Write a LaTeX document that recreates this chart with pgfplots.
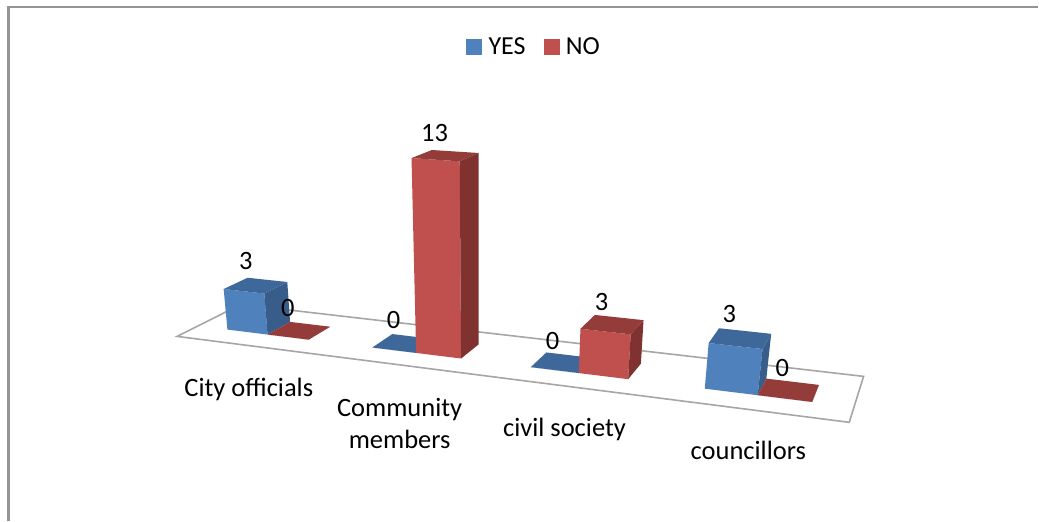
\documentclass[border=0pt]{standalone}
\usepackage{fontspec}
\setmainfont{Carlito}
\usepackage{pgfplots}
\usepackage{pgfplotstable}
\pgfplotsset{compat=1.18}

% Responses per group
\pgfplotstableread{
cat yes no
0   3   0
1   0   13
2   0   3
3   3   0
}\responses

% Faces of a unit column: p along the categories, q in depth, r upward
\pgfplotstableread{
p q r
0 0 0
1 0 0
1 0 1
0 0 1
}\frontface
\pgfplotstableread{
p q r
1 0 0
1 1 0
1 1 1
1 0 1
}\sideface
\pgfplotstableread{
p q r
0 0 1
1 0 1
1 1 1
0 1 1
}\topface

% Floor outline: u in categories, t in depth
\pgfplotstableread{
u t
0 0
4 0
4 1
0 1
}\floortable

\definecolor{yesfront}{HTML}{4F81BD}
\definecolor{yesside}{HTML}{385D8A}
\definecolor{yestop}{HTML}{3D6899}
\definecolor{nofront}{HTML}{C0504D}
\definecolor{noside}{HTML}{7F3230}
\definecolor{notop}{HTML}{943C3A}

% One face: table, colour, left edge of the column, value
\newcommand{\drawface}[4]{%
  \addplot[fill=#2, draw=none, forget plot] table[
    x expr={px(#3+\thisrow{p}*0.2857, 0.31+\thisrow{q}*0.38, #4*\thisrow{r})},
    y expr={py(#3+\thisrow{p}*0.2857, 0.31+\thisrow{q}*0.38, #4*\thisrow{r})}] {#1} -- cycle;
}
\newcommand{\drawfaces}[3]{%
  \drawface{\frontface}{#1front}{#2}{#3}%
  \drawface{\sideface}{#1side}{#2}{#3}%
  \drawface{\topface}{#1top}{#2}{#3}%
}
% One column: category, column of the table, offset inside the category
\newcommand{\drawcolumn}[3]{%
  \pgfplotstablegetelem{#1}{#2}\of\responses
  \edef\docolumn{\noexpand\drawfaces{#2}{#1+#3}{\pgfplotsretval}}%
  \docolumn
}

\begin{document}
\begin{tikzpicture}[chartlabel/.style={font=\fontsize{26.5}{32}\selectfont, inner sep=0pt, align=center}]
\begin{axis}[
  scale only axis, width=1039pt, height=521pt,
  xmin=0, xmax=1039, ymin=0, ymax=521, y dir=reverse,
  hide axis, clip=false,
  declare function={
    wt(\u,\t,\z)=-0.17405*\u/4+0.08325*\t+1-0.005*\z;
    px(\u,\t,\z)=(524.76*\u/4+83.76*\t+177.3-2.4*\z)/wt(\u,\t,\z);
    py(\u,\t,\z)=(12.43*\u/4-6.63*\t+336.7-15.2*\z)/wt(\u,\t,\z);
  },
  legend style={at={(533.5/1039,1-46.5/521)}, anchor=center, draw=none, fill=none,
    legend columns=2, font=\fontsize{26}{30}\selectfont,
    nodes={inner xsep=0pt},
    /tikz/column 1/.style={column sep=7pt},
    /tikz/column 2/.style={column sep=18pt},
    /tikz/column 3/.style={column sep=7pt}},
  legend image code/.code={\fill[#1] (0pt,-7.5pt) rectangle (15pt,7.5pt);},
]
\path (axis cs:0,0) rectangle (axis cs:1039,521);

% Chart frame: left and top edges only
\draw[color=black!42, line width=2.4pt] (axis cs:8.5,521) -- (axis cs:8.5,6.7);
\draw[color=black!42, line width=1.8pt] (axis cs:7.3,6.7) -- (axis cs:1039,6.7);

\addlegendimage{yesfront}\addlegendentry{YES}
\addlegendimage{nofront}\addlegendentry{NO}

% Floor
\addplot[fill=white, draw=black!35, line width=1.6pt, forget plot] table[
  x expr={px(\thisrow{u},\thisrow{t},0)}, y expr={py(\thisrow{u},\thisrow{t},0)}] {\floortable} -- cycle;

% Columns, in drawing order
\drawcolumn{0}{yes}{0.2143}
\drawcolumn{0}{no}{0.5}
\drawcolumn{1}{yes}{0.2143}
\drawcolumn{1}{no}{0.5}
\drawcolumn{2}{yes}{0.2143}
\drawcolumn{2}{no}{0.5}
\drawcolumn{3}{yes}{0.2143}
\drawcolumn{3}{no}{0.5}

% Value labels and category names
\node[chartlabel] at (axis cs:246,261) {3};
\node[chartlabel] at (axis cs:288,308) {0};
\node[chartlabel] at (axis cs:394,320) {0};
\node[chartlabel] at (axis cs:435,133) {13};
\node[chartlabel] at (axis cs:553,341) {0};
\node[chartlabel] at (axis cs:602,302) {3};
\node[chartlabel] at (axis cs:730,314) {3};
\node[chartlabel] at (axis cs:783,368) {0};
\node[chartlabel] at (axis cs:249,390) {City officials};
\node[chartlabel] at (axis cs:400,424) {Community\\members};
\node[chartlabel] at (axis cs:565,430) {civil society};
\node[chartlabel] at (axis cs:749,451) {councillors};
\end{axis}
\end{tikzpicture}
\end{document}
